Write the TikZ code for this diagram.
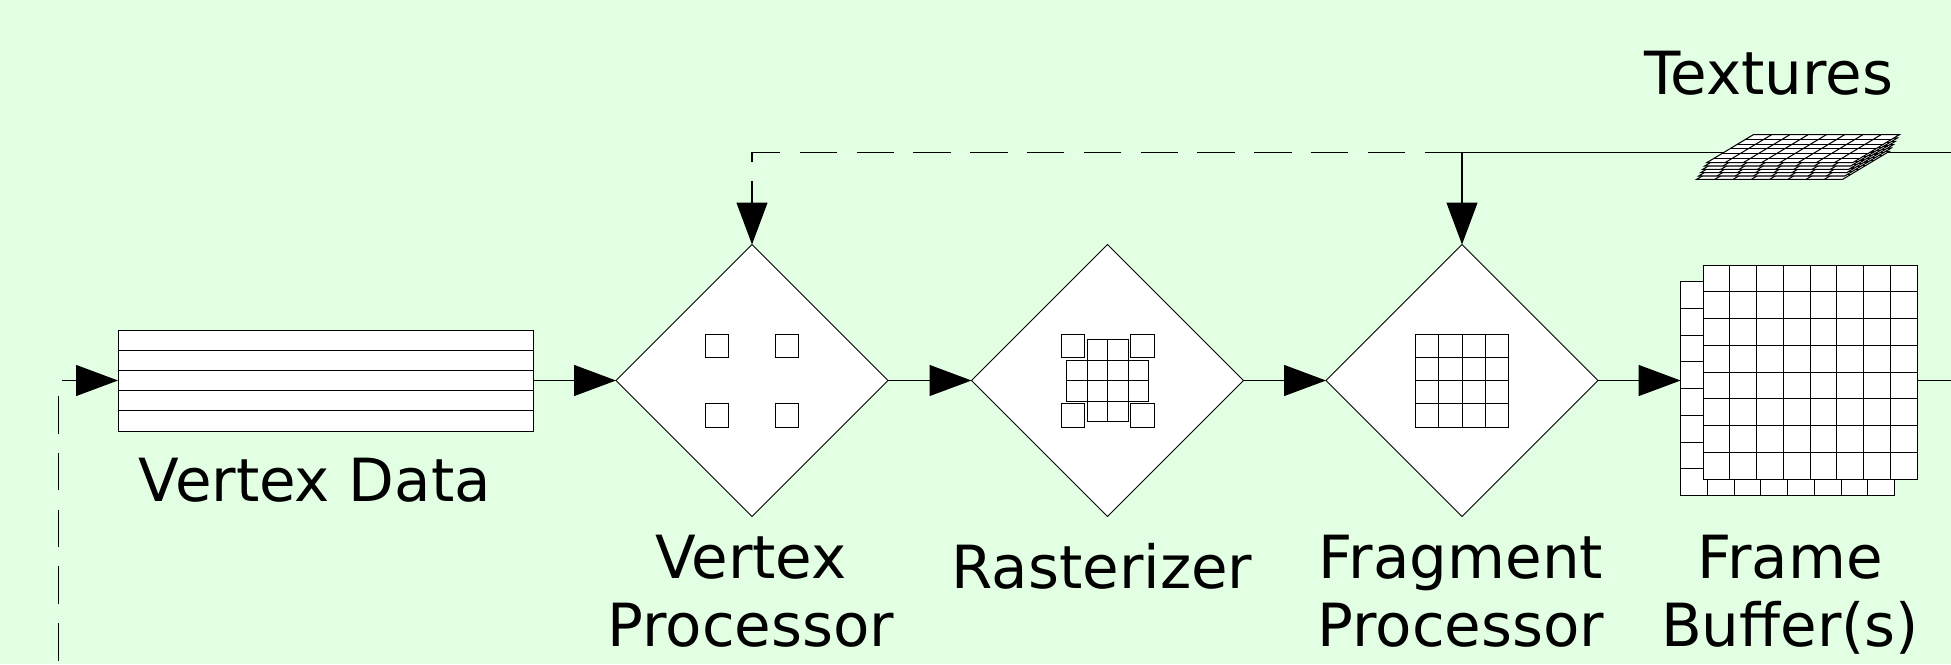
\documentclass[tikz,border=0pt]{standalone}
\usepackage{fontspec}
\setmainfont{DejaVu Sans}
\usetikzlibrary{shapes.geometric,arrows.meta}
\definecolor{bg}{RGB}{227,255,227}
\begin{document}
\begin{tikzpicture}[x=1pt,y=-1pt,
  line width=1.2pt,
  every node/.style={inner sep=0pt, outer sep=0pt},
  stage/.style={diamond, aspect=1, minimum width=272pt, minimum height=272pt, draw=black, fill=white, line width=1pt},
  cellbox/.style={draw=black, fill=white, line width=1pt},
  thin/.style={line width=1pt},
  tex/.style={line width=1.05pt},
  arr/.style={-{Triangle[length=42pt,width=31pt]}},
  fbdash/.style={dash pattern=on 37.5pt off 19.3pt},
  lab/.style={font=\fontsize{59.5}{68}\selectfont, align=center, text=black},
]
\fill[bg] (0,0) rectangle (1951,664);
\useasboundingbox (0,0) rectangle (1951,664);

% ---- coordinates for free ends
\coordinate (lb) at (58.5,660.7);
\coordinate (texin) at (1951,152.5);
\coordinate (fbout) at (1951,380.5);

% ---- Vertex Data
\node[draw, fill=white, thin, minimum width=415pt, minimum height=101pt] (vd) at (325.5,380.5) {};
\foreach \yy in {-30.3,-10.1,10.1,30.3}
  \draw[thin] ([yshift=-\yy pt]vd.west) -- ([yshift=-\yy pt]vd.east);

% ---- stages
\node[stage] (vp) at (752,380.5) {};
\node[stage] (ra) at (1107.5,380.5) {};
\node[stage] (fp) at (1462,380.5) {};

% vertex processor icon
\begin{scope}[shift={(vp.center)}]
  \foreach \a in {-46.5,23.25} \foreach \b in {-46.5,23.25}
    \draw[cellbox] (\a,\b) rectangle ++(23.25,23.25);
\end{scope}

% rasterizer icon
\begin{scope}[shift={(ra.center)}]
  \foreach \a in {-46.5,23.25} \foreach \b in {-46.5,23.25}
    \draw[cellbox] (\a,\b) rectangle ++(23.25,23.25);
  \draw[cellbox] (-20.5,-41) rectangle (20.5,41);
  \draw[cellbox] (-41,-20.5) rectangle (41,20.5);
  \foreach \c in {-20.5,0,20.5} {
    \draw[thin] (-41,\c) -- (41,\c);
    \draw[thin] (\c,-41) -- (\c,41);
  }
\end{scope}

% fragment processor icon
\begin{scope}[shift={(fp.center)}]
  \draw[cellbox] (-46.5,-46.5) rectangle (46.5,46.5);
  \foreach \c in {-23.25,0,23.25} {
    \draw[thin] (-46.5,\c) -- (46.5,\c);
    \draw[thin] (\c,-46.5) -- (\c,46.5);
  }
\end{scope}

% ---- frame buffers
\node[cellbox, minimum width=214pt, minimum height=214pt] (fbb) at (1787.6,388.7) {};
\foreach \i in {1,...,7} {
  \draw[thin] ([xshift=\i*26.75pt]fbb.north west) -- ([xshift=\i*26.75pt]fbb.south west);
  \draw[thin] ([yshift=-\i*26.75pt]fbb.north west) -- ([yshift=-\i*26.75pt]fbb.north east);
}
\node[cellbox, minimum width=214pt, minimum height=214pt] (fbf) at (1810,372) {};
\foreach \i in {1,...,7} {
  \draw[thin] ([xshift=\i*26.75pt]fbf.north west) -- ([xshift=\i*26.75pt]fbf.south west);
  \draw[thin] ([yshift=-\i*26.75pt]fbf.north west) -- ([yshift=-\i*26.75pt]fbf.north east);
}

% ---- connectors
\draw[fbdash, arr] (lb) |- (vd.west);
\draw[arr] (vd.east) -- (vp.west);
\draw[arr] (vp.east) -- (ra.west);
\draw[arr] (ra.east) -- (fp.west);
\draw[arr] (fp.east) -- (fp.east -| fbb.west);
\draw (fbf.east |- fp.east) -- (fbout);
\draw[arr] (texin) -| (fp.north);
\draw[fbdash, arr] (fp.north |- texin) -| (vp.north);

% ---- textures icon
\foreach \k in {5,4,...,0} {
  \pgfmathsetmacro\ox{-2*\k}
  \pgfmathsetmacro\oy{3.32*\k}
  \begin{scope}[shift={(\ox,\oy)}]
    \draw[tex, fill=white] (1753.3,134.7) -- (1899.3,134.7) -- (1852.7,162.7) -- (1706.7,162.7) -- cycle;
    \foreach \i in {1,...,7}
      \draw[tex] ({1753.3+18.25*\i},134.7) -- ({1706.7+18.25*\i},162.7);
    \foreach \j in {1,...,5}
      \draw[tex] ({1753.3-46.6*\j/6},{134.7+28*\j/6}) -- ({1899.3-46.6*\j/6},{134.7+28*\j/6});
  \end{scope}
}

% ---- labels
\node[lab, anchor=base] (vdl) at (315,501) {Vertex Data};
\node[lab, anchor=north] (vpl) at (751,535.6) {Vertex\\Processor};
\node[lab, anchor=base] (ral) at (1102,588) {Rasterizer};
\node[lab, anchor=north] (fpl) at (1461,535.6) {Fragment\\Processor};
\node[lab, anchor=north] (fbl) at (1790,535.6) {Frame\\Buffer(s)};
\node[lab, anchor=base] (txl) at (1769,94) {Textures};
\end{tikzpicture}
\end{document}
